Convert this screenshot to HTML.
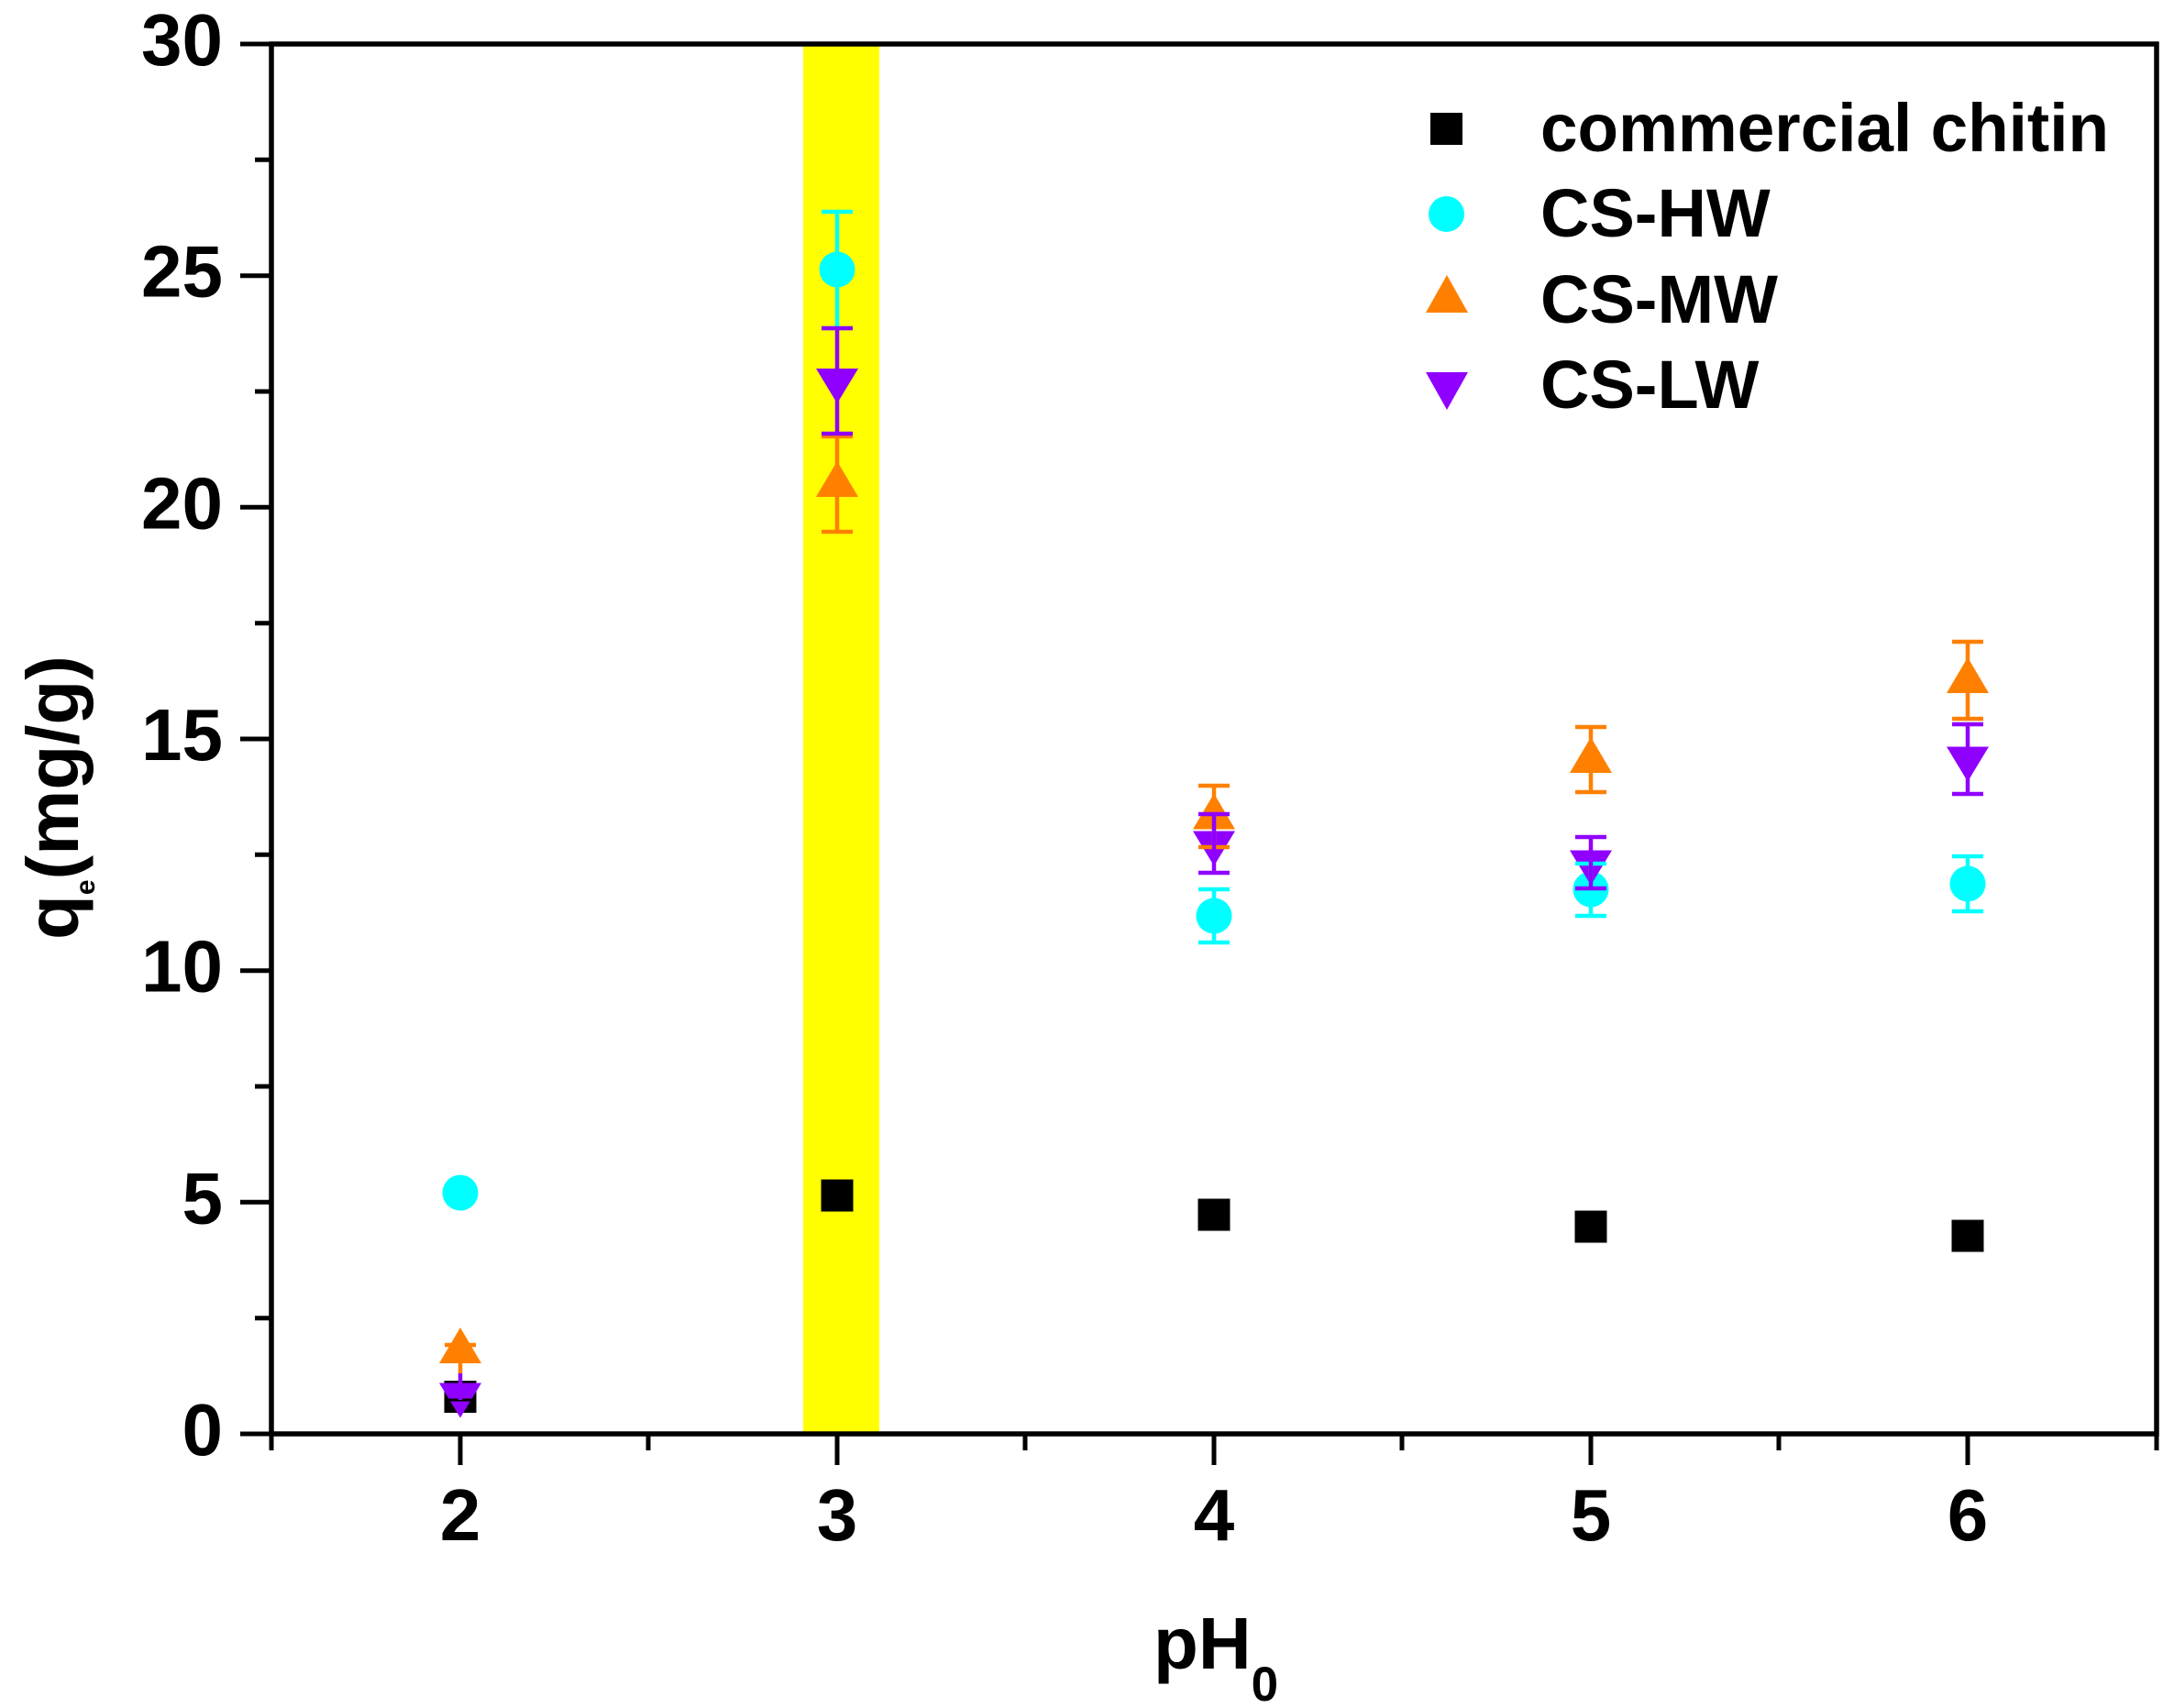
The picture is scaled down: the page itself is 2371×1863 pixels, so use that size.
<!DOCTYPE html>
<html>
<head>
<meta charset="utf-8">
<style>
html,body{margin:0;padding:0;background:#fff;}
svg{display:block;}
text{font-family:"Liberation Sans",Arial,sans-serif;font-weight:bold;fill:#000;}
</style>
</head>
<body>
<svg width="2371" height="1863" viewBox="0 0 2371 1863" xmlns="http://www.w3.org/2000/svg">
<rect x="0" y="0" width="2371" height="1863" fill="#fff"/>
<!-- yellow band -->
<rect x="876" y="48" width="83" height="1516" fill="#FFFF00"/>

<!-- symbols: black squares -->
<g fill="#000">
<rect x="484.5" y="1506" width="35" height="35"/>
<rect x="895.5" y="1286.5" width="35" height="35"/>
<rect x="1306.5" y="1307.5" width="35" height="35"/>
<rect x="1717.5" y="1320.5" width="35" height="35"/>
<rect x="2128.5" y="1330.5" width="35" height="35"/>
</g>
<!-- cyan circles -->
<g fill="#00FFFF">
<circle cx="502" cy="1301" r="19.5"/>
<circle cx="913" cy="294" r="19.5"/>
<circle cx="1324" cy="999" r="19.5"/>
<circle cx="1735" cy="970" r="19.5"/>
<circle cx="2146" cy="964" r="19.5"/>
</g>
<!-- orange up triangles -->
<g fill="#FF8000">
<polygon points="502,1448 525,1487 479,1487"/>
<polygon points="913,503 936,542 890,542"/>
<polygon points="1324,865.5 1347,904.5 1301,904.5"/>
<polygon points="1735,804 1758,843 1712,843"/>
<polygon points="2146,717 2169,756 2123,756"/>
</g>
<!-- purple down triangles -->
<g fill="#9000FF">
<polygon points="479,1508.5 525,1508.5 502,1546.5"/>
<polygon points="890,402 936,402 913,440"/>
<polygon points="1301,906.5 1347,906.5 1324,944.5"/>
<polygon points="1712,927.5 1758,927.5 1735,965.5"/>
<polygon points="2123,814.5 2169,814.5 2146,852.5"/>
</g>

<!-- error bars -->
<g stroke="#000" stroke-width="3" fill="none">
<path d="M485,1527H519"/>
</g>
<g stroke="#00FFFF" stroke-width="4.5" fill="none">
<path d="M913,231V358M896,231H930M896,358H930"/>
<path d="M1324,970V1028M1307,970H1341M1307,1028H1341"/>
<path d="M1735,942V999M1718,942H1752M1718,999H1752"/>
<path d="M2146,934V994M2129,934H2163M2129,994H2163"/>
</g>
<g stroke="#FF8000" stroke-width="4.5" fill="none">
<path d="M502,1467V1498M485,1467H519"/>
<path d="M913,476V580M896,476H930M896,580H930"/>
<path d="M1324,857V924M1307,857H1341M1307,924H1341"/>
<path d="M1735,793V864M1718,793H1752M1718,864H1752"/>
<path d="M2146,700V784M2129,700H2163M2129,784H2163"/>
</g>
<g stroke="#9000FF" stroke-width="4.5" fill="none">
<path d="M502,1498V1527"/>
<path d="M913,358V473M896,358H930M896,473H930"/>
<path d="M1324,888V952M1307,888H1341M1307,952H1341"/>
<path d="M1735,913V969M1718,913H1752M1718,969H1752"/>
<path d="M2146,790V866M2129,790H2163M2129,866H2163"/>
</g>

<!-- axes frame -->
<g stroke="#000" stroke-width="5.5" fill="none" stroke-linecap="square">
<path d="M296,48H2352V1564H296Z"/>
</g>
<!-- y ticks -->
<g stroke="#000" stroke-width="5" fill="none">
<path d="M262,1564H296M262,1311.3H296M262,1058.7H296M262,806H296M262,553.3H296M262,300.7H296M262,48H296"/>
<path d="M278,1437.7H296M278,1185H296M278,932.3H296M278,679.7H296M278,427H296M278,174.3H296"/>
<!-- x ticks -->
<path d="M502,1564V1598M913,1564V1598M1324,1564V1598M1735,1564V1598M2146,1564V1598"/>
<path d="M296,1564V1582M707,1564V1582M1118,1564V1582M1529,1564V1582M1940,1564V1582M2352,1564V1582"/>
</g>

<!-- y tick labels -->
<g font-size="80" text-anchor="end">
<text x="243" y="1587">0</text>
<text x="243" y="1334.3">5</text>
<text x="243" y="1081.7">10</text>
<text x="243" y="829">15</text>
<text x="243" y="576.3">20</text>
<text x="243" y="323.7">25</text>
<text x="243" y="71">30</text>
</g>
<!-- x tick labels -->
<g font-size="80" text-anchor="middle">
<text x="502" y="1680">2</text>
<text x="913" y="1680">3</text>
<text x="1324" y="1680">4</text>
<text x="1735" y="1680">5</text>
<text x="2146" y="1680">6</text>
</g>

<!-- axis titles -->
<text x="1258" y="1820" font-size="80">pH<tspan font-size="53" dy="35">0</tspan></text>
<text transform="translate(85,1025) rotate(-90)" font-size="80">q<tspan font-size="30" dy="18">e</tspan><tspan font-size="80" dy="-18">(mg/g)</tspan></text>

<!-- legend -->
<rect x="1560" y="123" width="35" height="35" fill="#000"/>
<circle cx="1577.5" cy="233.5" r="19.5" fill="#00FFFF"/>
<polygon points="1578,300 1601,341 1555,341" fill="#FF8000"/>
<polygon points="1555,406 1601,406 1578,447" fill="#9000FF"/>
<g font-size="74">
<text x="1680" y="165" textLength="620" lengthAdjust="spacingAndGlyphs">commercial chitin</text>
<text x="1680" y="258">CS-HW</text>
<text x="1680" y="352">CS-MW</text>
<text x="1680" y="445">CS-LW</text>
</g>
</svg>
</body>
</html>
